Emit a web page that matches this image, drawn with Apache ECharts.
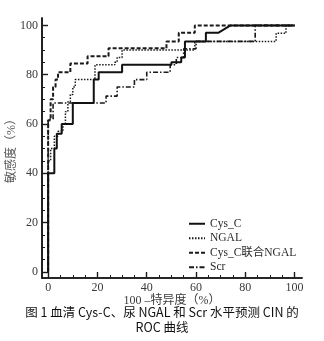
<!DOCTYPE html>
<html>
<head>
<meta charset="utf-8">
<script src="https://cdn.jsdelivr.net/npm/echarts@6/dist/echarts.min.js"></script>
<style>
  html, body { margin: 0; padding: 0; background: #fff; }
  #chart { width: 324px; height: 341px; }
</style>
</head>
<body>
<div id="chart"></div>
<script>
// ROC curves: x = 100 - specificity (%), y = sensitivity (%)
const seriesNames = ['Cys_C', 'NGAL', 'Cys_C联合NGAL', 'Scr'];

const cysX = [0, 0, 2.5, 2.5, 3.5, 3.5, 5.5, 5.5, 10, 10, 18.5, 18.5, 20.5, 20.5, 30, 30, 50, 50, 54, 54, 55.5, 55.5, 64, 64, 69, 74, 100];
const cysY = [0, 40, 40, 50, 50, 56, 56, 60, 60, 68.5, 68.5, 78, 78, 81, 81, 84, 84, 85, 85, 87, 87, 93.5, 93.5, 97, 97, 100, 100];

const ngalX = [0, 0, 1, 1, 2.5, 2.5, 4, 4, 6, 6, 7, 7, 8, 8, 9, 9, 10, 10, 11, 11, 12, 12, 19, 19, 27, 27, 28, 28, 30, 30, 59.5, 59.5, 92.5, 92.5, 96.5, 96.5, 100];
const ngalY = [0, 45, 45, 50, 50, 55, 55, 57, 57, 60, 60, 65, 65, 69, 69, 72, 72, 75, 75, 78, 78, 78, 78, 84, 84, 85, 85, 87, 87, 90, 90, 93.5, 93.5, 96.8, 96.8, 100, 100];

const comboX = [0, 0, 1, 1, 2, 2, 3, 3, 4, 4, 9, 9, 16, 16, 24.5, 24.5, 48, 48, 53, 53, 59.5, 59.5, 100];
const comboY = [0, 61.5, 61.5, 70, 70, 75, 75, 78, 78, 81, 81, 84.5, 84.5, 87.5, 87.5, 90.7, 90.7, 93.5, 93.5, 97, 97, 100, 100];

const scrX = [0, 0, 2, 2, 23.5, 23.5, 28, 28, 35, 35, 40, 40, 49.5, 49.5, 52, 52, 55, 55, 60, 60, 84, 84, 100];
const scrY = [0, 62, 62, 68.5, 68.5, 71.3, 71.3, 75, 75, 78, 78, 81, 81, 84, 84, 87, 87, 90.5, 90.5, 93.5, 93.5, 100, 100];

const majorTicks = [0, 20, 40, 60, 80, 100];
const minorTicks = [5, 10, 15, 25, 30, 35, 45, 50, 55, 65, 70, 75, 85, 90, 95];

const serif = "'Liberation Serif', 'DejaVu Serif', serif";
const cjk = "'Liberation Serif', 'Noto Sans CJK SC', serif";

function zip(xs, ys) { return xs.map((x, i) => [x, ys[i]]); }

const axisMin = -2.5, axisMax = 103;
const axisLineStyle = { color: '#1a1a1a', width: 1.6 };

function valueAxis(extra) {
  return Object.assign({
    type: 'value', min: axisMin, max: axisMax,
    splitLine: { show: false },
    nameMoveOverlap: false,
    axisLine: { show: true, onZero: false, lineStyle: axisLineStyle },
    axisTick: { show: true, inside: true, length: 6, customValues: majorTicks, lineStyle: { color: '#1a1a1a', width: 1.4 } },
    axisLabel: { show: true, customValues: majorTicks, color: '#3a3a3a', fontFamily: serif, fontSize: 12, margin: 4 }
  }, extra);
}
function minorAxis(extra) {
  return Object.assign({
    type: 'value', min: axisMin, max: axisMax,
    splitLine: { show: false },
    axisLine: { show: true, onZero: false, lineStyle: axisLineStyle },
    axisTick: { show: true, inside: true, length: 3, customValues: minorTicks, lineStyle: { color: '#1a1a1a', width: 1 } },
    axisLabel: { show: false }
  }, extra);
}

const chart = echarts.init(document.getElementById('chart'), null, { renderer: 'canvas' });

const lineBase = { type: 'line', symbol: 'none', xAxisIndex: 0, yAxisIndex: 0, animation: false,
  itemStyle: { color: '#1a1a1a' } };

chart.setOption({
  backgroundColor: '#ffffff',
  animation: false,
  color: ['#1a1a1a'],
  grid: { left: 42, right: 22, top: 18, bottom: 63, containLabel: false, outerBoundsMode: 'none' },
  xAxis: [
    valueAxis({
      position: 'bottom',
      name: '100 –特异度（%）', nameLocation: 'middle', nameGap: 17,
      nameTextStyle: { color: '#3a3a3a', fontFamily: cjk, fontSize: 12 }
    }),
    minorAxis({ position: 'bottom', offset: 0 })
  ],
  yAxis: [
    valueAxis({
      position: 'left',
      name: '敏感度（%）', nameLocation: 'middle', nameGap: 24, nameRotate: 90,
      nameTextStyle: { color: '#555', fontFamily: cjk, fontSize: 12 }
    }),
    minorAxis({ position: 'left', offset: 0 })
  ],
  legend: {
    orient: 'vertical', left: 183, top: 213, itemGap: 3,
    itemWidth: 16, itemHeight: 10,
    itemStyle: { opacity: 0 },
    textStyle: { color: '#2a2a2a', fontFamily: cjk, fontSize: 11.5 },
    data: seriesNames
  },
  series: [
    Object.assign({}, lineBase, { name: seriesNames[3], data: zip(scrX, scrY), z: 2,
      lineStyle: { color: '#1a1a1a', width: 1.6, type: [5, 2, 1.5, 2] } }),
    Object.assign({}, lineBase, { name: seriesNames[1], data: zip(ngalX, ngalY), z: 3,
      lineStyle: { color: '#1a1a1a', width: 1.5, type: [1.5, 1.5] } }),
    Object.assign({}, lineBase, { name: seriesNames[2], data: zip(comboX, comboY), z: 4,
      lineStyle: { color: '#1a1a1a', width: 2, type: [4, 2] } }),
    Object.assign({}, lineBase, { name: seriesNames[0], data: zip(cysX, cysY), z: 5,
      lineStyle: { color: '#111', width: 2 } })
  ],
  graphic: [
    { type: 'text', left: 'center', top: 306,
      style: { text: '图 1 血清 Cys-C、尿 NGAL 和 Scr 水平预测 CIN 的', fill: '#111', font: "12.5px 'Noto Sans CJK SC', sans-serif" } },
    { type: 'text', left: 'center', top: 321,
      style: { text: 'ROC 曲线', fill: '#111', font: "12.5px 'Noto Sans CJK SC', sans-serif" } }
  ]
});
</script>
</body>
</html>
